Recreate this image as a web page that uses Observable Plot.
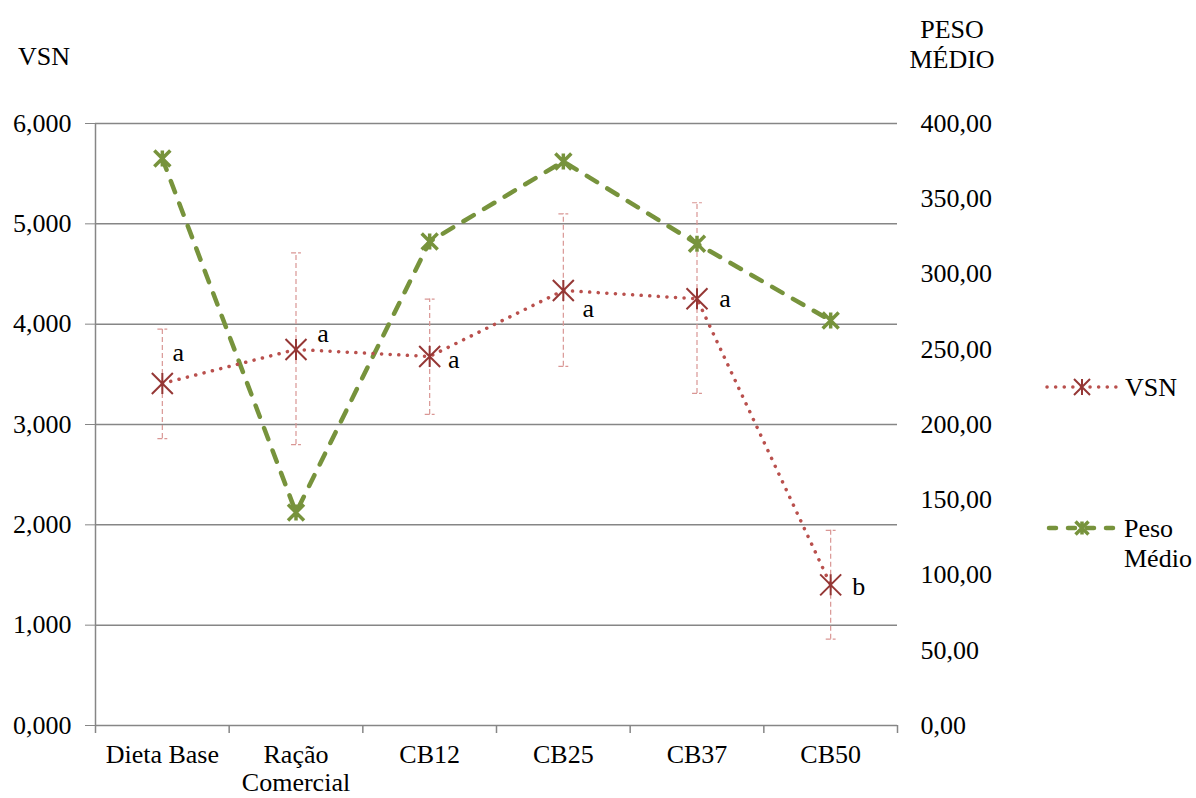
<!DOCTYPE html>
<html>
<head>
<meta charset="utf-8">
<script src="https://cdn.jsdelivr.net/npm/d3@7"></script>
<script src="https://cdn.jsdelivr.net/npm/@observablehq/plot@0.6"></script>
<style>
  html, body { margin: 0; padding: 0; background: #fff; }
  body { font-family: "Liberation Serif", "Times New Roman", serif; }
  #wrap { position: relative; width: 1196px; height: 798px; }
  .t { position: absolute; font-family: "Liberation Serif", serif; font-size: 26px; color: #000; line-height: 30px; }
  #legend { position: absolute; left: 0; top: 0; }
</style>
</head>
<body>
<div id="wrap">
  <div class="t" style="left:18px; top:42px;">VSN</div>
  <div class="t" style="left:892px; top:15px; width:120px; text-align:center;">PESO<br>MÉDIO</div>
</div>
<script>
// ---- data ----
const categories = ["Dieta Base", "Ração\nComercial", "CB12", "CB25", "CB37", "CB50"];
const vsn      = [3.409, 3.748, 3.678, 4.336, 4.253, 1.402];
const vsnLow   = [2.86, 2.80, 3.10, 3.58, 3.31, 0.86];
const vsnHigh  = [3.95, 4.71, 4.25, 5.10, 5.21, 1.945];
const peso     = [376.7, 141.5, 321.6, 374.8, 320.1, 269.1];
const letters  = ["a", "a", "a", "a", "a", "b"];
const vsnTicks  = [0, 1, 2, 3, 4, 5, 6];
const pesoTicks = [0, 50, 100, 150, 200, 250, 300, 350, 400];

// ---- layout / style config ----
const letterDx = [16, 27, 24, 25, 28, 28];
const letterDy = [-31, -16, 3, 18, 0, 2];
const pesoToVsn = 6 / 400;

const rows = categories.map((c, i) => ({
  i, cat: c, vsn: vsn[i], lo: vsnLow[i], hi: vsnHigh[i], peso: peso[i], letter: letters[i]
}));

const star = {
  draw(ctx, size) {
    const R = Math.sqrt(size / Math.PI);
    ctx.moveTo(-R, -R); ctx.lineTo(R, R);
    ctx.moveTo(R, -R); ctx.lineTo(-R, R);
    ctx.moveTo(0, -R); ctx.lineTo(0, R);
  }
};

const red = "#953735", redLine = "#B9504D", errCol = "#D99694", green = "#77933C", gridCol = "#868686";
const capHalf = 0.037;
const FS = 26;

const chart = Plot.plot({
  width: 1196, height: 798,
  marginLeft: 95, marginRight: 299, marginTop: 123, marginBottom: 73,
  style: { fontFamily: "'Liberation Serif', 'Times New Roman', serif", fontSize: FS + "px", background: "transparent" },
  x: { domain: [-0.5, 5.5] },
  y: { domain: [0, 6] },
  marks: [
    Plot.gridY(vsnTicks, { stroke: gridCol, strokeOpacity: 1, strokeWidth: 1.5 }),
    Plot.ruleX([-0.5], { stroke: gridCol, strokeWidth: 1.5 }),
    Plot.axisY(vsnTicks, { anchor: "left", tickSize: 10, tickPadding: 14, stroke: gridCol, fill: "#000", fontSize: FS,
      tickFormat: d => d.toFixed(3).replace(".", ","), label: null }),
    Plot.axisY(pesoTicks.map(t => t * pesoToVsn), { anchor: "right", tickSize: 0, tickPadding: 23, fill: "#000", fontSize: FS,
      tickFormat: d => (d / pesoToVsn).toFixed(2).replace(".", ","), label: null }),
    Plot.axisX(d3.range(-0.5, 6, 1), { tickSize: 8, stroke: gridCol, strokeWidth: 1.5, tickFormat: () => "", label: null }),
    Plot.axisX(d3.range(0, 6), { tickSize: 0, tickPadding: 17, fill: "#000", fontSize: FS, lineHeight: 1.1,
      tickFormat: i => categories[i], label: null }),
    // error bars
    Plot.ruleX(rows, { x: "i", y1: "lo", y2: "hi", stroke: errCol, strokeWidth: 1.2, strokeDasharray: "5,3" }),
    Plot.link(rows, { x1: d => d.i - capHalf, x2: d => d.i + capHalf, y1: "lo", y2: "lo", stroke: errCol, strokeWidth: 1.2, strokeDasharray: "5,2" }),
    Plot.link(rows, { x1: d => d.i - capHalf, x2: d => d.i + capHalf, y1: "hi", y2: "hi", stroke: errCol, strokeWidth: 1.2, strokeDasharray: "5,2" }),
    // Peso Médio
    Plot.line(rows, { x: "i", y: d => d.peso * pesoToVsn, stroke: green, strokeWidth: 4.5, strokeDasharray: "12,12", strokeLinecap: "round" }),
    Plot.dot(rows, { x: "i", y: d => d.peso * pesoToVsn, symbol: star, r: 8, stroke: green, strokeWidth: 3.5 }),
    // VSN
    Plot.line(rows, { x: "i", y: "vsn", stroke: redLine, strokeWidth: 3.5, strokeDasharray: "0.1,8.5", strokeLinecap: "round" }),
    Plot.dot(rows, { x: "i", y: "vsn", symbol: star, r: 10.5, stroke: red, strokeWidth: 2 }),
    ...rows.map((r, k) => Plot.text([r], { x: "i", y: "vsn", text: "letter", dx: letterDx[k], dy: letterDy[k], fill: "#000", fontSize: FS }))
  ]
});
chart.style.position = "absolute";
chart.style.left = "0px";
chart.style.top = "0px";
const wrap = document.getElementById("wrap");
wrap.prepend(chart);

// legend
const lg = d3.create("svg").attr("id", "legend").attr("width", 1196).attr("height", 798)
  .style("position", "absolute").style("left", "0px").style("top", "0px")
  .style("font-family", "'Liberation Serif', 'Times New Roman', serif").style("font-size", FS + "px");
const starPath = (R) => `M${-R},${-R}L${R},${R}M${R},${-R}L${-R},${R}M0,${-R}L0,${R}`;
// VSN entry
lg.append("line").attr("x1", 1047).attr("x2", 1116).attr("y1", 387).attr("y2", 387)
  .attr("stroke", redLine).attr("stroke-width", 3.5).attr("stroke-dasharray", "0.1,8.5").attr("stroke-linecap", "round");
lg.append("path").attr("d", starPath(8)).attr("transform", "translate(1082,387)").attr("stroke", red).attr("stroke-width", 2).attr("fill", "none");
lg.append("text").attr("x", 1125).attr("y", 396).text("VSN");
// Peso entry
lg.append("line").attr("x1", 1049).attr("x2", 1116).attr("y1", 528).attr("y2", 528)
  .attr("stroke", green).attr("stroke-width", 4.5).attr("stroke-dasharray", "7,12").attr("stroke-linecap", "round");
lg.append("path").attr("d", starPath(6.5)).attr("transform", "translate(1082,528)").attr("stroke", green).attr("stroke-width", 3.5).attr("fill", "none");
lg.append("text").attr("x", 1124).attr("y", 537).text("Peso");
lg.append("text").attr("x", 1124).attr("y", 567).text("Médio");
wrap.appendChild(lg.node());
</script>
</body>
</html>
